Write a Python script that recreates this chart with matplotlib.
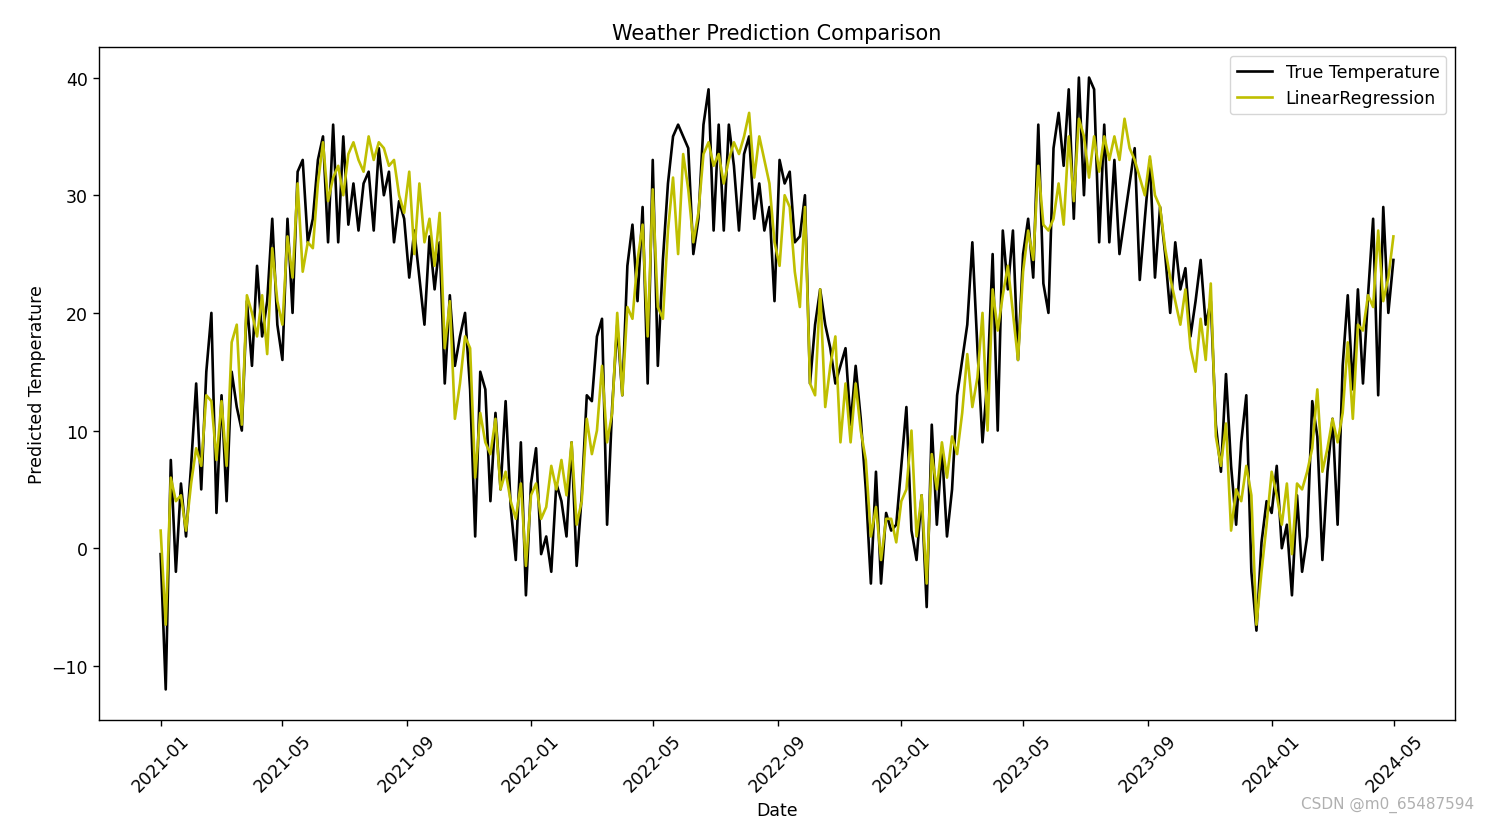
import pandas as pd
import matplotlib
matplotlib.use("Agg")
import matplotlib.pyplot as plt
import matplotlib.dates as mdates

plt.rcParams["font.size"] = 12.5
plt.rcParams["lines.linewidth"] = 1.9
plt.rcParams["axes.linewidth"] = 1.0
plt.rcParams["xtick.major.size"] = 4.4
plt.rcParams["ytick.major.size"] = 4.4
plt.rcParams["xtick.major.width"] = 1.0
plt.rcParams["ytick.major.width"] = 1.0

# one reading every 5 days, 2021-01-01 .. 2024-04-30
dates = pd.date_range("2021-01-01", periods=244, freq="5D")

true_temp = [
    -0.5, -12, 7.5, -2, 5.5, 1, 7, 14, 5, 15, 20, 3, 13, 4, 15, 12, 10, 21, 15.5, 24, 18, 21, 28, 19,
    16, 28, 20, 32, 33, 26, 28, 33, 35, 26, 36, 26, 35, 27.5, 31, 27, 31, 32, 27, 34, 30, 32, 26, 29.5, 28,
    23, 27, 23, 19, 26.5, 22, 26, 14, 21.5, 15.5, 18, 20, 13.5, 1, 15, 13.5, 4, 11.5, 5, 12.5, 3.5, -1, 9, -4, 5.5,
    8.5, -0.5, 1, -2, 5.5, 4, 1, 9, -1.5, 4.5, 13, 12.5, 18, 19.5, 2, 12, 19, 13, 24, 27.5, 21, 29, 14, 33,
    15.5, 24.5, 31, 35, 36, 35, 34, 25, 28, 36, 39, 27, 36, 27, 36, 32.5, 27, 33.5, 35, 28, 31, 27, 29, 21,
    33, 31, 32, 26, 26.5, 30, 14, 19, 22, 19, 17, 14, 15.5, 17, 10.5, 15.5, 11, 5, -3, 6.5, -3, 3, 1.5, 2, 7,
    12, 1.5, -1, 4.5, -5, 10.5, 2, 8.5, 1, 5, 13, 16, 19, 26, 17, 9, 14.5, 25, 10, 27, 22, 27, 16, 25, 28,
    23, 36, 22.5, 20, 34, 37, 32.5, 39, 28, 40, 30, 40, 39, 26, 36, 26, 33, 25, 28, 31, 34, 22.8, 28, 33, 23,
    29, 25, 20, 26, 22, 23.8, 18, 21, 24.5, 19, 21, 10.5, 6.5, 14.8, 7, 2, 9, 13, -2, -7, 0.5, 4, 3, 7, 0,
    2, -4, 4.5, -2, 1, 12.5, 9.5, -1, 6.5, 11, 2, 15.5, 21.5, 13.5, 22, 14, 21.5, 28, 13, 29, 20, 24.5,
]

lr_pred = [
    1.5, -6.5, 6, 4, 4.5, 1.5, 5.5, 8.5, 7, 13, 12.5, 7.5, 12.5, 7, 17.5, 19, 10.5, 21.5, 20, 18, 21.5, 16.5, 25.5, 21,
    19, 26.5, 23, 31, 23.5, 26, 25.5, 31, 34.5, 29.5, 31.5, 32.5, 30, 33.5, 34.5, 33, 32, 35, 33, 34.5, 34, 32.5, 33, 30, 28.5,
    32, 25, 31, 26, 28, 24, 28.5, 17, 21, 11, 14, 18, 17, 6, 11.5, 9, 8, 11, 5, 6.5, 4, 2.5, 5.5, -1.5, 4.5,
    5.5, 2.5, 3.5, 7, 5, 7.5, 4.5, 9, 2, 4, 11, 8, 10, 15.5, 9, 11.5, 20, 13, 20.5, 19.5, 24.5, 27.5, 18, 30.5,
    20.5, 19.5, 27, 31.5, 25, 33.5, 30.5, 26, 28.5, 33.5, 34.5, 32.5, 33.5, 31, 33, 34.5, 33.5, 35, 37, 31.5, 35, 33, 31, 26,
    24, 30, 29, 23.5, 20.5, 29, 14, 13, 22, 12, 15.5, 18, 9, 14, 9, 14, 10, 7.5, 1, 3.5, -1, 2.5, 2.5, 0.5, 4,
    5, 10, 1, 4.5, -3, 8, 5, 9, 6, 9.5, 8, 11.5, 16.5, 12, 14.5, 20, 10, 22, 18.5, 21.5, 24, 20, 16, 23.5, 27,
    24.5, 32.5, 27.5, 27, 28, 31, 27.5, 35, 29.5, 36.5, 35, 31.5, 35, 32, 35, 33, 35, 33, 36.5, 34, 33, 31.5, 30, 33.3, 30,
    29, 25.5, 23, 21, 19, 22, 17, 15, 19.5, 16, 22.5, 9.5, 7, 10.6, 1.5, 5, 4, 7, 4.5, -6.5, -2, 2, 6.5, 4.5, 2,
    5.5, -0.5, 5.5, 5, 6.5, 8.5, 13.5, 6.5, 8.5, 11, 9, 11.5, 17.5, 11, 19, 18.5, 21.5, 20.5, 27, 21, 23, 26.5,
]

fig = plt.figure(figsize=(14.89, 8.2), dpi=100)
ax = fig.add_axes([0.0665, 0.1207, 0.9107, 0.8208])

ax.plot(dates, true_temp, color="k", label="True Temperature")
ax.plot(dates, lr_pred, color="y", label="LinearRegression")

ax.xaxis.set_major_locator(mdates.MonthLocator(bymonth=[1, 5, 9]))
ax.xaxis.set_major_formatter(mdates.DateFormatter("%Y-%m"))
plt.setp(ax.get_xticklabels(), rotation=45)

ax.set_title("Weather Prediction Comparison")
ax.set_xlabel("Date")
ax.set_ylabel("Predicted Temperature")
ax.legend(loc="upper right")

fig.text(0.99, 0.008, "CSDN @m0_65487594", ha="right", va="bottom",
         color="#b0b0b0", fontsize=11)

fig.savefig("out.png")
